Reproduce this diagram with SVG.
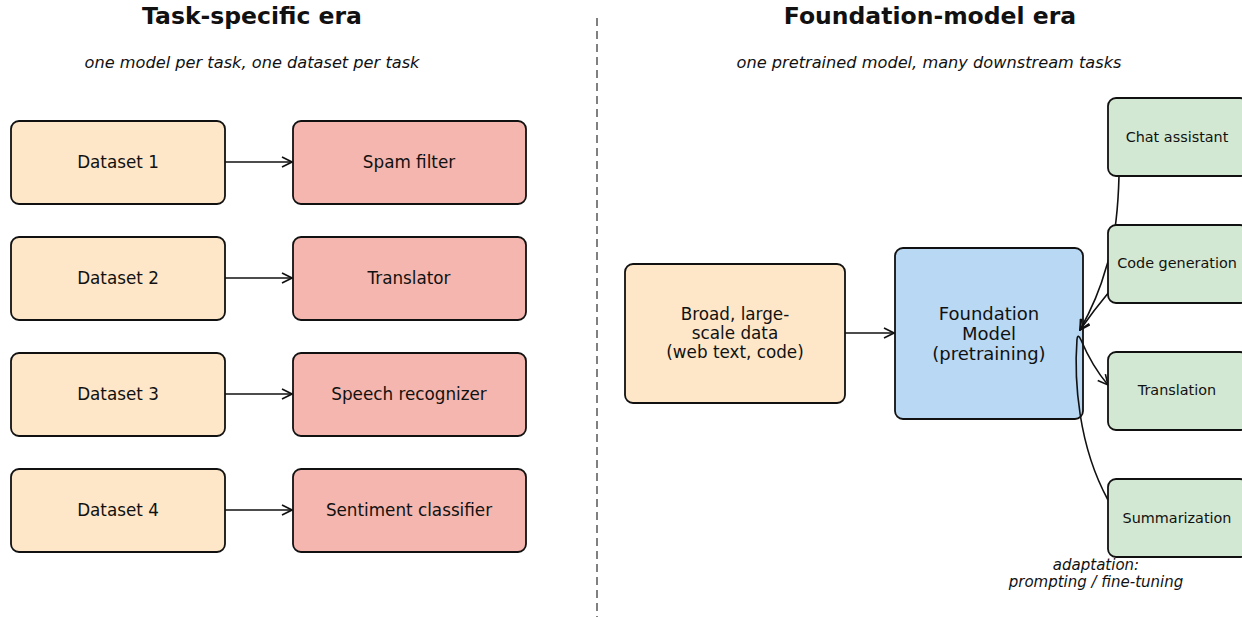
<svg xmlns="http://www.w3.org/2000/svg" width="1242" height="617" viewBox="0 0 1242 617">
<style>
text{font-family:"DejaVu Sans","Liberation Sans",sans-serif;fill:#111;text-anchor:middle;dominant-baseline:central}
.title{font-size:23.5px;font-weight:bold}
.sub{font-size:16.2px;font-style:italic}
.lbl{font-size:16.8px}
.big{font-size:18px}
.sm{font-size:14.4px}
.box{stroke:#111;stroke-width:1.8}
.data{fill:#fde7c8}
.model{fill:#f4b6ae}
.fm{fill:#b8d8f3}
.task{fill:#d3e8d2}
.conn{fill:none;stroke:#111;stroke-width:1.6}
</style>
<defs>
<marker id="ah" viewBox="0 0 12 12" refX="11" refY="6" markerWidth="12" markerHeight="12" markerUnits="userSpaceOnUse" orient="auto">
<path d="M1,1 L11,6 L1,11" fill="none" stroke="#111" stroke-width="1.6"/>
</marker>
</defs>
<rect width="1242" height="617" fill="#fff"/>
<text class="title" x="252" y="16">Task-specific era</text>
<text class="title" x="930" y="16">Foundation-model era</text>
<text class="sub" x="252" y="62">one model per task, one dataset per task</text>
<text class="sub" x="929" y="62">one pretrained model, many downstream tasks</text>
<line x1="597" y1="18" x2="597" y2="617" stroke="#808080" stroke-width="2" stroke-dasharray="8,5"/>
<g id="fm"><rect class="box fm" x="895" y="248" width="188" height="171" rx="8"/>
<text class="big" x="989" y="313">Foundation</text><text class="big" x="989" y="333">Model</text><text class="big" x="989" y="353">(pretraining)</text></g>
<g id="connectors">
<line class="conn" x1="225" y1="162" x2="292" y2="162" marker-end="url(#ah)"/>
<line class="conn" x1="225" y1="278" x2="292" y2="278" marker-end="url(#ah)"/>
<line class="conn" x1="225" y1="394" x2="292" y2="394" marker-end="url(#ah)"/>
<line class="conn" x1="225" y1="510" x2="292" y2="510" marker-end="url(#ah)"/>
<line class="conn" x1="845" y1="333" x2="894" y2="333" marker-end="url(#ah)"/>
<path class="conn" d="M1119,176 C1118,215 1114,245 1106,268 C1100,290 1090,312 1080,330" marker-end="url(#ah)"/>
<path class="conn" d="M1109,292 Q1094,310 1080,330" marker-end="url(#ah)"/>
<path class="conn" d="M1077,339 Q1078,333 1081,340 Q1092,366 1108,385" marker-end="url(#ah)"/>
<path class="conn" d="M1077,339 C1074,380 1078,445 1108,500"/>
</g>
<g id="dataset1"><rect class="box data" x="11" y="121" width="214" height="83" rx="8"/><text class="lbl" x="118" y="162">Dataset 1</text></g>
<g id="dataset2"><rect class="box data" x="11" y="237" width="214" height="83" rx="8"/><text class="lbl" x="118" y="278">Dataset 2</text></g>
<g id="dataset3"><rect class="box data" x="11" y="353" width="214" height="83" rx="8"/><text class="lbl" x="118" y="394">Dataset 3</text></g>
<g id="dataset4"><rect class="box data" x="11" y="469" width="214" height="83" rx="8"/><text class="lbl" x="118" y="510">Dataset 4</text></g>
<g id="spam"><rect class="box model" x="293" y="121" width="233" height="83" rx="8"/><text class="lbl" x="409" y="162">Spam filter</text></g>
<g id="translator"><rect class="box model" x="293" y="237" width="233" height="83" rx="8"/><text class="lbl" x="409" y="278">Translator</text></g>
<g id="speech"><rect class="box model" x="293" y="353" width="233" height="83" rx="8"/><text class="lbl" x="409" y="394">Speech recognizer</text></g>
<g id="sentiment"><rect class="box model" x="293" y="469" width="233" height="83" rx="8"/><text class="lbl" x="409" y="510">Sentiment classifier</text></g>
<g id="data"><rect class="box data" x="625" y="264" width="220" height="139" rx="8"/>
<text class="lbl" x="735" y="314">Broad, large-</text><text class="lbl" x="735" y="333">scale data</text><text class="lbl" x="735" y="352">(web text, code)</text></g>
<g id="chat"><rect class="box task" x="1108" y="98" width="140" height="78" rx="8"/><text class="sm" x="1177" y="137">Chat assistant</text></g>
<g id="code"><rect class="box task" x="1108" y="225" width="140" height="78" rx="8"/><text class="sm" x="1177" y="263">Code generation</text></g>
<g id="translation"><rect class="box task" x="1108" y="352" width="140" height="78" rx="8"/><text class="sm" x="1177" y="390">Translation</text></g>
<g id="summ"><rect class="box task" x="1108" y="479" width="140" height="78" rx="8"/><text class="sm" x="1177" y="518">Summarization</text></g>
<text class="sub" x="1096" y="565" style="font-size:15px">adaptation:</text>
<text class="sub" x="1096" y="582" style="font-size:15px">prompting / fine-tuning</text>
</svg>
